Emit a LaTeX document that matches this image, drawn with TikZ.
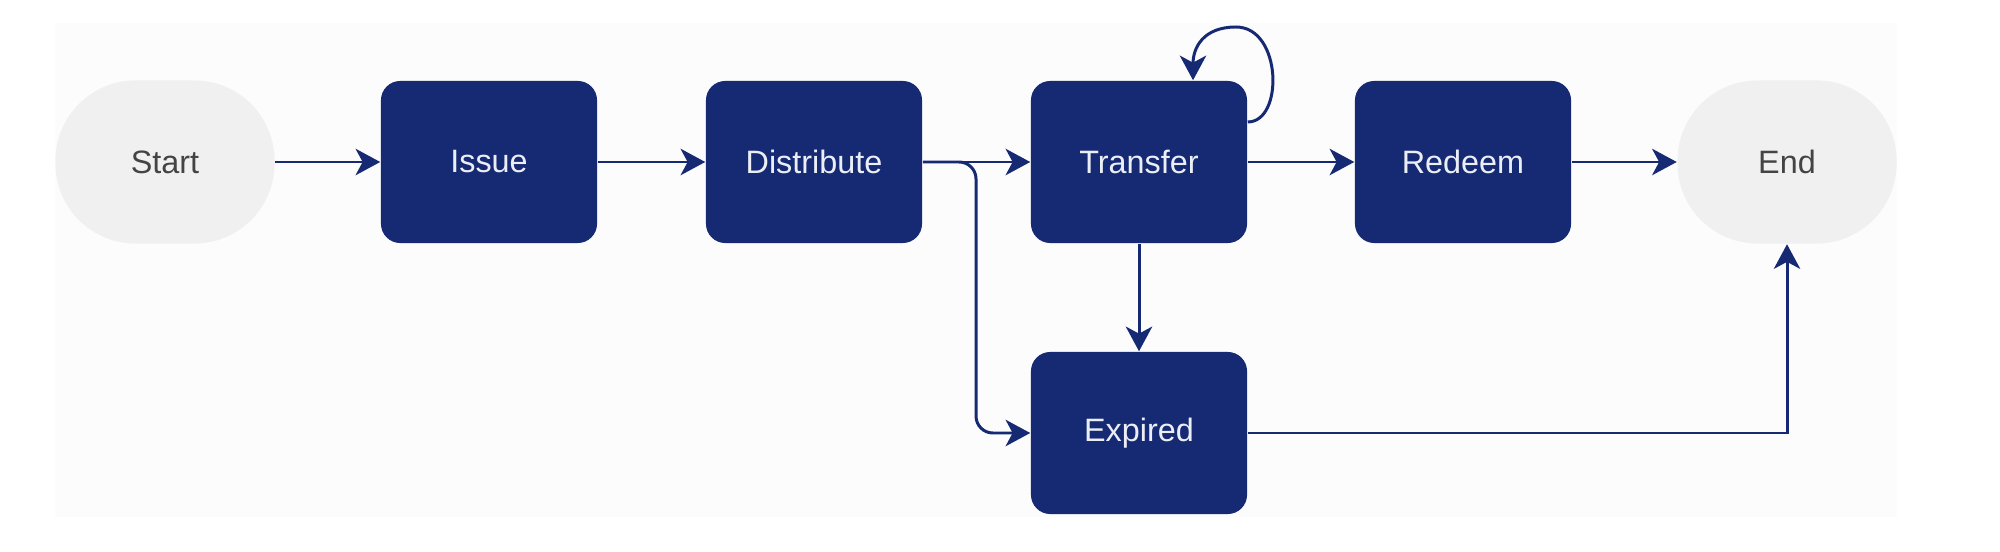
\documentclass[tikz,border=0pt]{standalone}
\usepackage{fontspec}
\setmainfont{Liberation Sans}
\usetikzlibrary{arrows.meta}
\definecolor{navy}{RGB}{22,42,116}
\definecolor{termfill}{RGB}{240,240,240}
\definecolor{termtext}{RGB}{68,68,68}
\definecolor{bgc}{RGB}{252,252,252}
\definecolor{boxtext}{RGB}{236,238,246}
\begin{document}
\begin{tikzpicture}[x=0.01cm,y=-0.01cm,
  state/.style={fill=navy, rounded corners=5.5pt, minimum width=2.16cm, minimum height=1.62cm,
    text=boxtext, font=\fontsize{9.2}{11}\selectfont, inner sep=0pt},
  term/.style={fill=termfill, rounded corners=22.8pt, minimum width=2.19cm, minimum height=1.63cm,
    text=termtext, font=\fontsize{9.2}{11}\selectfont, inner sep=0pt},
  flow/.style={draw=navy, line width=0.85pt, -{Stealth[length=7pt,width=7.5pt,inset=2pt]}}]
\useasboundingbox (0,0) rectangle (2000,552);
\fill[bgc] (55,23) rectangle (1897,517);

\node[term]  (start) at (165,162) {Start};
\node[state] (issue) at (489,162) {Issue};
\node[state] (dist)  at (814,162) {Distribute};
\node[state] (trans) at (1139,162) {Transfer};
\node[state] (red)   at (1463,162) {Redeem};
\node[term]  (end)   at (1787,162) {End};
\node[state] (exp)   at (1139,433) {Expired};

\draw[flow] (start) -- (issue);
\draw[flow] (issue) -- (dist);
\draw[flow] (dist) -- (trans);
\draw[flow] (trans) -- (red);
\draw[flow] (red) -- (end);
\draw[flow] (trans) -- (exp);
\draw[flow, rounded corners=4.8pt] (dist.east) -| (976,300) |- (exp.west);
\draw[flow] (exp.east) -| (end.south);
\draw[flow] ([yshift=0.4cm]trans.east) .. controls (1284,122) and (1282,27) .. (1236,27)
  .. controls (1203,27) and (1193,48) .. ([xshift=0.54cm]trans.north);
\end{tikzpicture}
\end{document}
